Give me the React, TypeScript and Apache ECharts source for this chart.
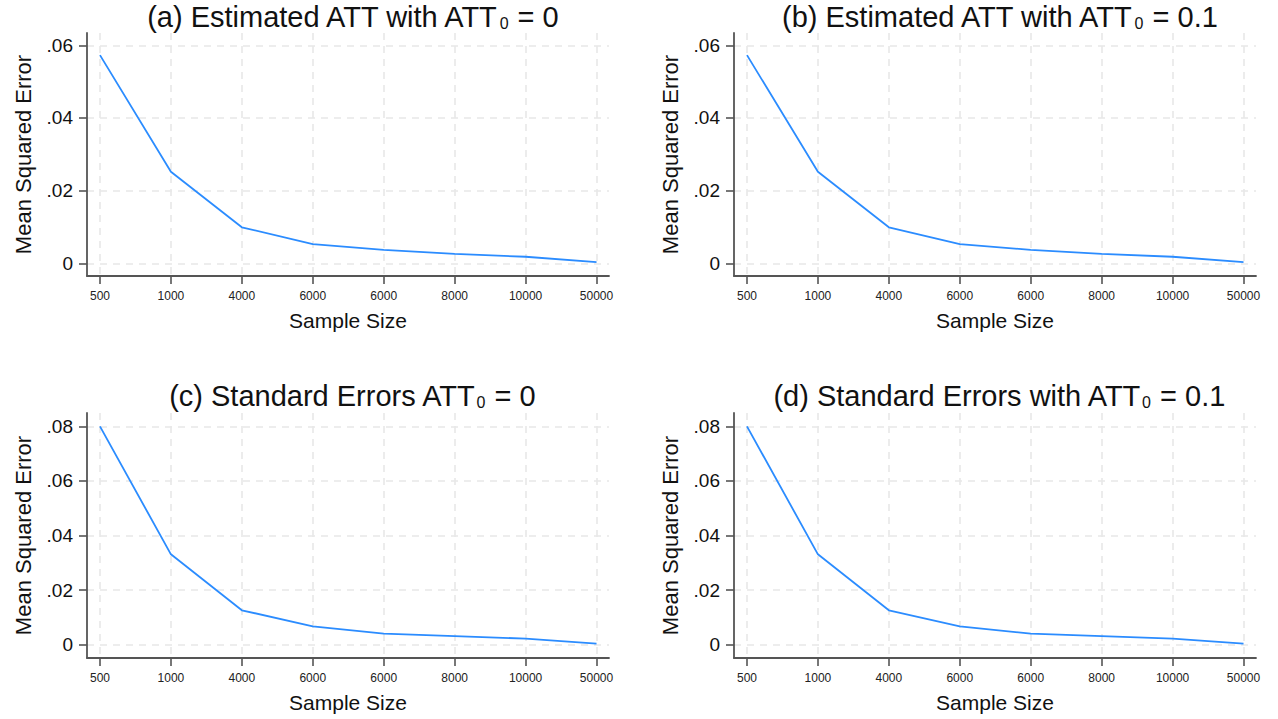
import React, { useEffect, useRef } from "react";
import * as echarts from "echarts";

// ---- data ----
const sampleSizes = ["500", "1000", "4000", "6000", "6000", "8000", "10000", "50000"];
const mseAtt0 = [0.0573, 0.0252, 0.0099, 0.0053, 0.0037, 0.0026, 0.0018, 0.0003];
const mseAtt01 = [0.0573, 0.0252, 0.0099, 0.0053, 0.0037, 0.0026, 0.0018, 0.0003];
const seAtt0 = [0.08, 0.0331, 0.0126, 0.0067, 0.004, 0.0031, 0.0022, 0.0004];
const seAtt01 = [0.08, 0.0331, 0.0126, 0.0067, 0.004, 0.0031, 0.0022, 0.0004];
const yTicksTop = [0, 0.02, 0.04, 0.06];
const yTicksBottom = [0, 0.02, 0.04, 0.06, 0.08];
const titles = [
  "(a) Estimated ATT with ATT{sub|0} = 0",
  "(b) Estimated ATT with ATT{sub|0} = 0.1",
  "(c) Standard Errors ATT{sub|0} = 0",
  "(d) Standard Errors with ATT{sub|0} = 0.1",
];
const xName = "Sample Size";
const yName = "Mean Squared Error";

const FONT = "'Liberation Sans', Arial, sans-serif";
const LINE_COLOR = "#2b8cff";
const AXIS_COLOR = "#555555";
const GRID_COLOR = "#e8e8e8";

const panels = [
  { title: titles[0], values: mseAtt0, ticks: yTicksTop, yMin: -0.0035, yMax: 0.0634, left: 87, top: 33, height: 243, titleY: 17 },
  { title: titles[1], values: mseAtt01, ticks: yTicksTop, yMin: -0.0035, yMax: 0.0634, left: 734, top: 33, height: 243, titleY: 17 },
  { title: titles[2], values: seAtt0, ticks: yTicksBottom, yMin: -0.0049, yMax: 0.0849, left: 87, top: 413, height: 245, titleY: 396 },
  { title: titles[3], values: seAtt01, ticks: yTicksBottom, yMin: -0.0049, yMax: 0.0849, left: 734, top: 413, height: 245, titleY: 396 },
];
const PLOT_W = 522;

function fmtY(v: number): string {
  if (Math.abs(v) < 1e-9) return "0";
  return "." + Math.round(v * 100).toString().padStart(2, "0");
}

export default function App() {
  const ref = useRef<HTMLDivElement>(null);
  useEffect(() => {
    if (!ref.current) return;
    const chart = echarts.init(ref.current, undefined, { renderer: "svg" });
    const xIdx = sampleSizes.map((_, i) => i);
    const splitStyle = { color: GRID_COLOR, width: 1.6, type: [7, 6] as number[] };
    const option: any = {
      animation: false,
      backgroundColor: "#ffffff",
      textStyle: { fontFamily: FONT },
      grid: panels.map((p) => ({ left: p.left, top: p.top, width: PLOT_W, height: p.height, containLabel: false })),
      xAxis: panels.map((p, k) => ({
        type: "value",
        gridIndex: k,
        min: -0.183,
        max: 7.176,
        name: xName,
        nameLocation: "middle",
        nameGap: 34,
        nameTextStyle: { fontSize: 21, color: "#111", fontFamily: FONT },
        axisLine: { show: true, onZero: false, lineStyle: { color: AXIS_COLOR, width: 1.8 } },
        axisTick: { show: true, length: 8, customValues: xIdx, lineStyle: { color: AXIS_COLOR, width: 1.6 } },
        axisLabel: {
          customValues: xIdx,
          margin: 14,
          fontSize: 12,
          color: "#222",
          fontFamily: FONT,
          formatter: (v: number) => sampleSizes[Math.round(v)] ?? "",
        },
        splitLine: { show: true, lineStyle: splitStyle },
      })),
      yAxis: panels.map((p, k) => ({
        type: "value",
        gridIndex: k,
        min: p.yMin,
        max: p.yMax,
        name: yName,
        nameLocation: "middle",
        nameGap: 53,
        nameTextStyle: { fontSize: 22, color: "#111", fontFamily: FONT },
        axisLine: { show: true, onZero: false, lineStyle: { color: AXIS_COLOR, width: 1.8 } },
        axisTick: { show: true, length: 8, customValues: p.ticks, lineStyle: { color: AXIS_COLOR, width: 1.6 } },
        axisLabel: {
          customValues: p.ticks,
          margin: 14,
          fontSize: 19,
          color: "#111",
          fontFamily: FONT,
          formatter: (v: number) => fmtY(v),
        },
        splitLine: { show: true, lineStyle: splitStyle },
      })),
      series: panels.map((p, k) => ({
        type: "line",
        xAxisIndex: k,
        yAxisIndex: k,
        showSymbol: false,
        symbol: "none",
        lineStyle: { color: LINE_COLOR, width: 1.8 },
        data: p.values.map((v, i) => [i, v]),
        z: 3,
      })),
      graphic: panels.map((p) => ({
        type: "text",
        x: p.left + PLOT_W / 2 + 4,
        y: p.titleY,
        style: {
          text: p.title,
          fontSize: 29,
          fontFamily: FONT,
          fill: "#111",
          textAlign: "center",
          textVerticalAlign: "middle",
          rich: {
            sub: { fontSize: 16, fontFamily: FONT, fill: "#111", verticalAlign: "bottom", padding: [0, 1, 0, 1] },
          },
        },
      })),
    };
    chart.setOption(option);
    return () => chart.dispose();
  }, []);
  return (
    <div
      ref={ref}
      style={{ position: "fixed", left: 0, top: 0, width: 1278, height: 719, background: "#fff" }}
    />
  );
}
